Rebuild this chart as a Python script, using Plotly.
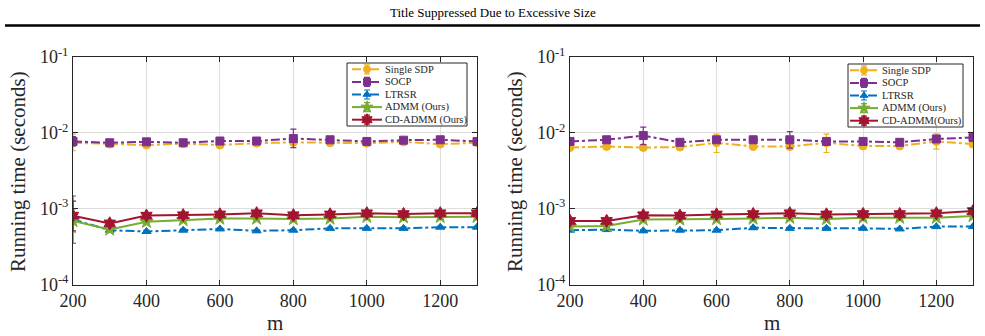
import plotly.graph_objects as go

m = [200, 300, 400, 500, 600, 700, 800, 900, 1000, 1100, 1200, 1300]
x_ticks = [200, 400, 600, 800, 1000, 1200]
y_ticks = [1e-4, 1e-3, 1e-2, 1e-1]
y_tick_text = ["10<sup>-4</sup>", "10<sup>-3</sup>", "10<sup>-2</sup>", "10<sup>-1</sup>"]

names = ["Single SDP", "SOCP", "LTRSR", "ADMM (Ours)", "CD-ADMM (Ours)"]
names_right = ["Single SDP", "SOCP", "LTRSR", "ADMM (Ours)", "CD-ADMM(Ours)"]

# ---- left panel ----
sdp_L = [0.0074, 0.0071, 0.0069, 0.0072, 0.0069, 0.0073, 0.0075, 0.0074, 0.0073, 0.0076, 0.0071, 0.0074]
socp_L = [0.0077, 0.0074, 0.0076, 0.0074, 0.0078, 0.0078, 0.0084, 0.0081, 0.0077, 0.0080, 0.0081, 0.0077]
ltrsr_L = [0.00072, 0.00052, 0.00050, 0.00052, 0.00054, 0.00051, 0.00052, 0.00055, 0.00055, 0.00055, 0.00057, 0.00057]
admm_L = [0.00069, 0.00053, 0.00067, 0.00071, 0.00074, 0.00074, 0.00073, 0.00074, 0.00078, 0.00077, 0.00078, 0.00078]
cdadmm_L = [0.00081, 0.00064, 0.00081, 0.00082, 0.00084, 0.00087, 0.00082, 0.00084, 0.00087, 0.00085, 0.00087, 0.00087]

sdp_L_ep = [0.0022, 0.0003, 0.0003, 0.0002, 0.0003, 0.0002, 0.0004, 0.0003, 0.0002, 0.0003, 0.0003, 0.0002]
sdp_L_em = [0.0016, 0.0003, 0.0003, 0.0002, 0.0003, 0.0002, 0.0004, 0.0003, 0.0002, 0.0003, 0.0003, 0.0002]
socp_L_ep = [0.0012, 0.0003, 0.0003, 0.0002, 0.0003, 0.0003, 0.0028, 0.0004, 0.0003, 0.0004, 0.0004, 0.0003]
socp_L_em = [0.0010, 0.0003, 0.0003, 0.0002, 0.0003, 0.0003, 0.0020, 0.0004, 0.0003, 0.0004, 0.0004, 0.0003]
ltrsr_L_ep = [0.00075, 0.00002, 0.00002, 0.00002, 0.00002, 0.00002, 0.00002, 0.00002, 0.00002, 0.00002, 0.00002, 0.00002]
ltrsr_L_em = [0.00037, 0.00002, 0.00002, 0.00002, 0.00002, 0.00002, 0.00002, 0.00002, 0.00002, 0.00002, 0.00002, 0.00002]
admm_L_ep = [0.00030, 0.00003, 0.00003, 0.00003, 0.00003, 0.00003, 0.00003, 0.00003, 0.00003, 0.00003, 0.00003, 0.00003]
admm_L_em = [0.00020, 0.00003, 0.00003, 0.00003, 0.00003, 0.00003, 0.00003, 0.00003, 0.00003, 0.00003, 0.00003, 0.00003]
cdadmm_L_ep = [0.00045, 0.00004, 0.00004, 0.00004, 0.00004, 0.00004, 0.00004, 0.00004, 0.00004, 0.00004, 0.00004, 0.00004]
cdadmm_L_em = [0.00030, 0.00004, 0.00004, 0.00004, 0.00004, 0.00004, 0.00004, 0.00004, 0.00004, 0.00004, 0.00004, 0.00004]

# ---- right panel ----
sdp_R = [0.0064, 0.0066, 0.0064, 0.0065, 0.0074, 0.0066, 0.0066, 0.0074, 0.0067, 0.0067, 0.0077, 0.0071]
socp_R = [0.0077, 0.0081, 0.0092, 0.0075, 0.0081, 0.0081, 0.0081, 0.0077, 0.0077, 0.0075, 0.0083, 0.0087]
ltrsr_R = [0.00052, 0.00053, 0.00051, 0.00052, 0.00052, 0.00056, 0.00055, 0.00055, 0.00055, 0.00054, 0.00058, 0.00058]
admm_R = [0.00058, 0.00059, 0.00072, 0.00072, 0.00073, 0.00074, 0.00076, 0.00073, 0.00076, 0.00076, 0.00076, 0.00080]
cdadmm_R = [0.00069, 0.00069, 0.00082, 0.00081, 0.00084, 0.00085, 0.00087, 0.00084, 0.00085, 0.00085, 0.00087, 0.00093]

sdp_R_ep = [0.0003, 0.0003, 0.0002, 0.0003, 0.0022, 0.0003, 0.0005, 0.0022, 0.0003, 0.0003, 0.0020, 0.0003]
sdp_R_em = [0.0003, 0.0003, 0.0002, 0.0003, 0.0019, 0.0003, 0.0005, 0.0019, 0.0003, 0.0003, 0.0016, 0.0003]
socp_R_ep = [0.0006, 0.0004, 0.0027, 0.0004, 0.0004, 0.0004, 0.0023, 0.0004, 0.0003, 0.0003, 0.0006, 0.0004]
socp_R_em = [0.0006, 0.0004, 0.0022, 0.0004, 0.0004, 0.0004, 0.0018, 0.0004, 0.0003, 0.0003, 0.0006, 0.0004]
ltrsr_R_ep = [0.00002, 0.00002, 0.00002, 0.00002, 0.00002, 0.00002, 0.00002, 0.00002, 0.00002, 0.00002, 0.00002, 0.00002]
ltrsr_R_em = ltrsr_R_ep
admm_R_ep = [0.00003, 0.00003, 0.00003, 0.00003, 0.00003, 0.00003, 0.00003, 0.00003, 0.00003, 0.00003, 0.00003, 0.00003]
admm_R_em = admm_R_ep
cdadmm_R_ep = [0.00004, 0.00004, 0.00004, 0.00004, 0.00004, 0.00004, 0.00004, 0.00004, 0.00004, 0.00004, 0.00004, 0.00004]
cdadmm_R_em = cdadmm_R_ep

colors = ["#EDB120", "#7E2F8E", "#0072BD", "#77AC30", "#A2142F"]
dashes = ["dashdot", "dashdot", "dashdot", "solid", "solid"]
symbols = ["circle", "square", "triangle-up", "star", "hexagram"]
msizes = [8, 8, 8, 10, 10]

SERIF = "Liberation Serif"
TXT = "#262626"

W, H = 985, 336

fig = go.Figure()

panels = [
    ("x", "y", names,
     [sdp_L, socp_L, ltrsr_L, admm_L, cdadmm_L],
     [sdp_L_ep, socp_L_ep, ltrsr_L_ep, admm_L_ep, cdadmm_L_ep],
     [sdp_L_em, socp_L_em, ltrsr_L_em, admm_L_em, cdadmm_L_em],
     dict(box=(347, 467, 63, 126), line=(352, 382), mk=367, txt=383)),
    ("x2", "y2", names_right,
     [sdp_R, socp_R, ltrsr_R, admm_R, cdadmm_R],
     [sdp_R_ep, socp_R_ep, ltrsr_R_ep, admm_R_ep, cdadmm_R_ep],
     [sdp_R_em, socp_R_em, ltrsr_R_em, admm_R_em, cdadmm_R_em],
     dict(box=(848, 963, 64, 127), line=(850, 878), mk=864, txt=880)),
]

for xa, ya, nm, series, eps, ems, lg in panels:
    for i in range(5):
        fig.add_trace(go.Scatter(
            x=m, y=series[i], name=nm[i], xaxis=xa, yaxis=ya, showlegend=False,
            mode="lines+markers",
            line=dict(color=colors[i], width=2, dash=dashes[i]),
            marker=dict(symbol=symbols[i], size=msizes[i], color=colors[i],
                        line=dict(color=colors[i], width=1)),
            error_y=dict(type="data", symmetric=False, array=eps[i], arrayminus=ems[i],
                         color=colors[i], thickness=1.2, width=3),
        ))

# ---- hand-drawn legends on a pixel-space overlay axis (x3/y3) ----
for xa, ya, nm, series, eps, ems, lg in panels:
    L, R, T, B = lg["box"]
    fig.add_trace(go.Scatter(
        x=[L, R, R, L, L], y=[T, T, B, B, T], xaxis="x3", yaxis="y3",
        mode="lines", fill="toself", fillcolor="white",
        line=dict(color=TXT, width=1), showlegend=False, hoverinfo="skip",
    ))
    rowh = (B - T) / 5.0
    for i in range(5):
        yc = T + rowh * (i + 0.5)
        fig.add_trace(go.Scatter(
            x=[lg["line"][0], lg["line"][1]], y=[yc, yc], xaxis="x3", yaxis="y3",
            mode="lines", line=dict(color=colors[i], width=2, dash=dashes[i]),
            showlegend=False, hoverinfo="skip",
        ))
        fig.add_trace(go.Scatter(
            x=[lg["mk"]], y=[yc], xaxis="x3", yaxis="y3", mode="markers",
            marker=dict(symbol=symbols[i], size=msizes[i] - 1, color=colors[i],
                        line=dict(color=colors[i], width=1)),
            error_y=dict(type="constant", value=4.5, color=colors[i], thickness=1.2, width=3),
            showlegend=False, hoverinfo="skip",
        ))
        fig.add_annotation(
            text=nm[i], x=lg["txt"], y=yc, xref="x3", yref="y3", showarrow=False,
            xanchor="left", yanchor="middle",
            font=dict(family=SERIF, size=10.5, color=TXT),
        )

axis_common = dict(
    showline=True, linecolor=TXT, linewidth=1, mirror="allticks",
    ticks="inside", ticklen=5, tickcolor=TXT,
    showgrid=True, gridcolor="#DEDEDE", gridwidth=1,
    tickfont=dict(family=SERIF, size=18, color=TXT),
    zeroline=False, automargin=False,
)

xdom1 = [73 / W, 477 / W]
xdom2 = [570 / W, 973 / W]
ydom = [1 - 284.5 / H, 1 - 57 / H]

for k, (xd, xn, yn) in enumerate([(xdom1, "xaxis", "yaxis"), (xdom2, "xaxis2", "yaxis2")]):
    suffix = "" if k == 0 else "2"
    fig.layout[xn] = dict(
        axis_common, domain=xd, range=[200, 1300], anchor="y" + suffix,
        tickvals=x_ticks, ticktext=[str(v) for v in x_ticks],
    )
    fig.layout[yn] = dict(
        axis_common, domain=ydom, type="log", range=[-4, -1], anchor="x" + suffix,
        tickvals=y_ticks, ticktext=y_tick_text,
    )
    # axis titles
    xc = (xd[0] + xd[1]) / 2
    fig.add_annotation(text="m", x=xc, y=1 - 323 / H, xref="paper", yref="paper",
                       showarrow=False, xanchor="center", yanchor="middle",
                       font=dict(family=SERIF, size=21, color=TXT))
    fig.add_annotation(text="Running time (seconds)", x=(18 + (497 if k else 0)) / W,
                       y=1 - 172 / H, xref="paper", yref="paper", textangle=-90,
                       showarrow=False, xanchor="center", yanchor="middle",
                       font=dict(family=SERIF, size=21, color=TXT))

fig.layout["xaxis3"] = dict(domain=[0, 1], range=[0, W], visible=False, fixedrange=True,
                            anchor="y3", automargin=False)
fig.layout["yaxis3"] = dict(domain=[0, 1], range=[H, 0], visible=False, fixedrange=True,
                            anchor="x3", automargin=False)

fig.add_annotation(
    text="Title Suppressed Due to Excessive Size", x=0.5, y=1 - 13 / H,
    xref="paper", yref="paper", showarrow=False, xanchor="center", yanchor="middle",
    font=dict(family=SERIF, size=13, color="black"),
)
fig.add_shape(type="line", xref="paper", yref="paper",
              x0=5 / W, x1=980 / W, y0=1 - 25.5 / H, y1=1 - 25.5 / H,
              line=dict(color="black", width=2.5))

fig.update_layout(
    width=W, height=H, margin=dict(l=0, r=0, t=0, b=0, pad=0, autoexpand=False),
    paper_bgcolor="white", plot_bgcolor="rgba(0,0,0,0)", showlegend=False,
    font=dict(family=SERIF, color=TXT),
)

fig.write_html("out.html")
